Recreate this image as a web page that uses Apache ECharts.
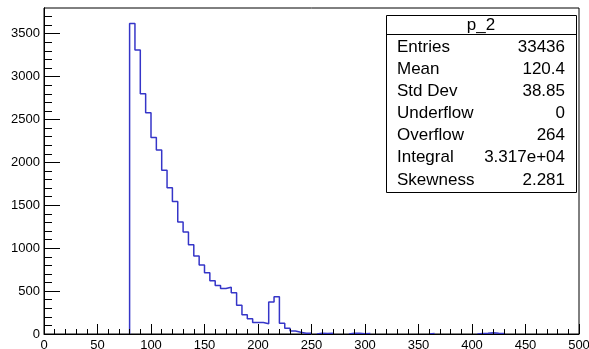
<!DOCTYPE html>
<html>
<head>
<meta charset="utf-8">
<script src="https://cdn.jsdelivr.net/npm/echarts@6/dist/echarts.min.js"></script>
<style>
html,body{margin:0;padding:0;background:#fff;}
#c{width:589px;height:349px;}
</style>
</head>
<body>
<div id="c"></div>
<script>
// ---- data ----
var binStart = 0;
var binWidth = 5;
var counts = [
  0,0,0,0,0,0,0,0,0,0,            // 0-50
  0,0,0,0,0,0,                    // 50-80
  3620,3310,2800,2580,            // 80-100
  2290,2145,1910,1705,1545,1305,1190,1040,910,805,   // 100-150
  715,620,565,530,545,480,335,225,178,135,           // 150-200
  135,120,372,435,125,66,35,20,10,8,                 // 200-250
  0,8,6,8,0,0,0,8,8,4,                               // 250-300
  5,0,0,0,0,0,0,0,0,0,                               // 300-350
  0,0,6,0,0,0,0,0,0,0,                               // 350-400
  0,6,8,15,8,5,0,0,0,0,                              // 400-450
  0,0,0,0,0,0,0,0,0,0                                // 450-500
];
var xMin = 0, xMax = 500, xMajor = 50;
var yMin = 0, yMax = 3800;
var yMajorTicks = [0,500,1000,1500,2000,2500,3000,3500];
var yMinorTicks = [];
for (var t = 0; t <= 3700; t += 100) { if (t % 500 !== 0) yMinorTicks.push(t); }

var statTitle = 'p_2';
var statNames = ['Entries','Mean','Std Dev','Underflow','Overflow','Integral','Skewness'];
var statValues = ['33436','120.4','38.85','0','264','3.317e+04','2.281'];

// ---- build outline points from bins (zero bins leave a gap on the baseline) ----
var outline = [];
for (var i = 0; i < counts.length; i++) {
  var lo = binStart + i * binWidth, hi = lo + binWidth;
  if (counts[i] === 0) {
    outline.push([lo, 0]);
    outline.push('-');
    outline.push([hi, 0]);
  } else {
    outline.push([lo, counts[i]]);
    outline.push([hi, counts[i]]);
  }
}

var FONT = '"Liberation Sans", Arial, Helvetica, sans-serif';
var chart = echarts.init(document.getElementById('c'), null, {renderer: 'canvas'});

var statRowsY = [47, 69, 91, 113, 135, 157, 180];
var boxL = 386, boxR = 576, boxT = 15, boxB = 192, titleSep = 34;
var graphics = [
  {type: 'rect', shape: {x: boxL + 0.5, y: boxT + 0.5, width: boxR - boxL, height: boxB - boxT},
   style: {fill: '#fff', stroke: '#000', lineWidth: 1}, z: 100},
  {type: 'line', shape: {x1: boxL, y1: titleSep + 0.5, x2: boxR, y2: titleSep + 0.5},
   style: {stroke: '#000', lineWidth: 1}, z: 101},
  {type: 'text', x: (boxL + boxR) / 2, y: (boxT + titleSep) / 2 + 0.5, z: 101,
   style: {text: statTitle, font: '17px ' + FONT, fill: '#000', textAlign: 'center', textVerticalAlign: 'middle'}}
];
for (var k = 0; k < statNames.length; k++) {
  graphics.push({type: 'text', x: 397, y: statRowsY[k], z: 101,
    style: {text: statNames[k], font: '17px ' + FONT, fill: '#000', textAlign: 'left', textVerticalAlign: 'middle'}});
  graphics.push({type: 'text', x: 565, y: statRowsY[k], z: 101,
    style: {text: statValues[k], font: '17px ' + FONT, fill: '#000', textAlign: 'right', textVerticalAlign: 'middle'}});
}

var yAxisBase = {
  type: 'value', min: yMin, max: yMax, position: 'left',
  axisLine: {show: true, onZero: false, lineStyle: {color: '#000', width: 1}},
  splitLine: {show: false}, z: 5
};

chart.setOption({
  animation: false,
  backgroundColor: '#fff',
  grid: {left: 44, right: 10, top: 8, bottom: 15, containLabel: false, outerBoundsMode: 'none',
    show: true, borderColor: '#000', borderWidth: 1, backgroundColor: '#fff'},
  xAxis: {
    type: 'value', min: xMin, max: xMax, interval: xMajor, z: 5,
    axisLine: {show: true, onZero: false, lineStyle: {color: '#000', width: 1}},
    axisTick: {show: true, inside: true, length: 10, lineStyle: {color: '#000', width: 1}},
    minorTick: {show: true, splitNumber: 5, length: 5, lineStyle: {color: '#000', width: 1}},
    splitLine: {show: false}, minorSplitLine: {show: false},
    axisLabel: {show: true, margin: 5, color: '#000', fontSize: 13, fontFamily: FONT, showMinLabel: true, showMaxLabel: true,
      formatter: function (v) { return String(v); }}
  },
  yAxis: [
    Object.assign({}, yAxisBase, {
      axisTick: {show: true, inside: true, length: 16, customValues: yMajorTicks, lineStyle: {color: '#000', width: 1}},
      axisLabel: {show: true, margin: 4, color: '#000', fontSize: 13, fontFamily: FONT, customValues: yMajorTicks,
        formatter: function (v) { return String(v); }}
    }),
    Object.assign({}, yAxisBase, {
      axisTick: {show: true, inside: true, length: 8, customValues: yMinorTicks, lineStyle: {color: '#000', width: 1}},
      axisLabel: {show: false}
    })
  ],
  graphic: graphics,
  series: [{
    type: 'line', data: outline, showSymbol: false, symbol: 'none', connectNulls: false,
    lineStyle: {color: '#3535c8', width: 1.5}, z: 2, clip: true, silent: true
  }]
});
</script>
</body>
</html>
